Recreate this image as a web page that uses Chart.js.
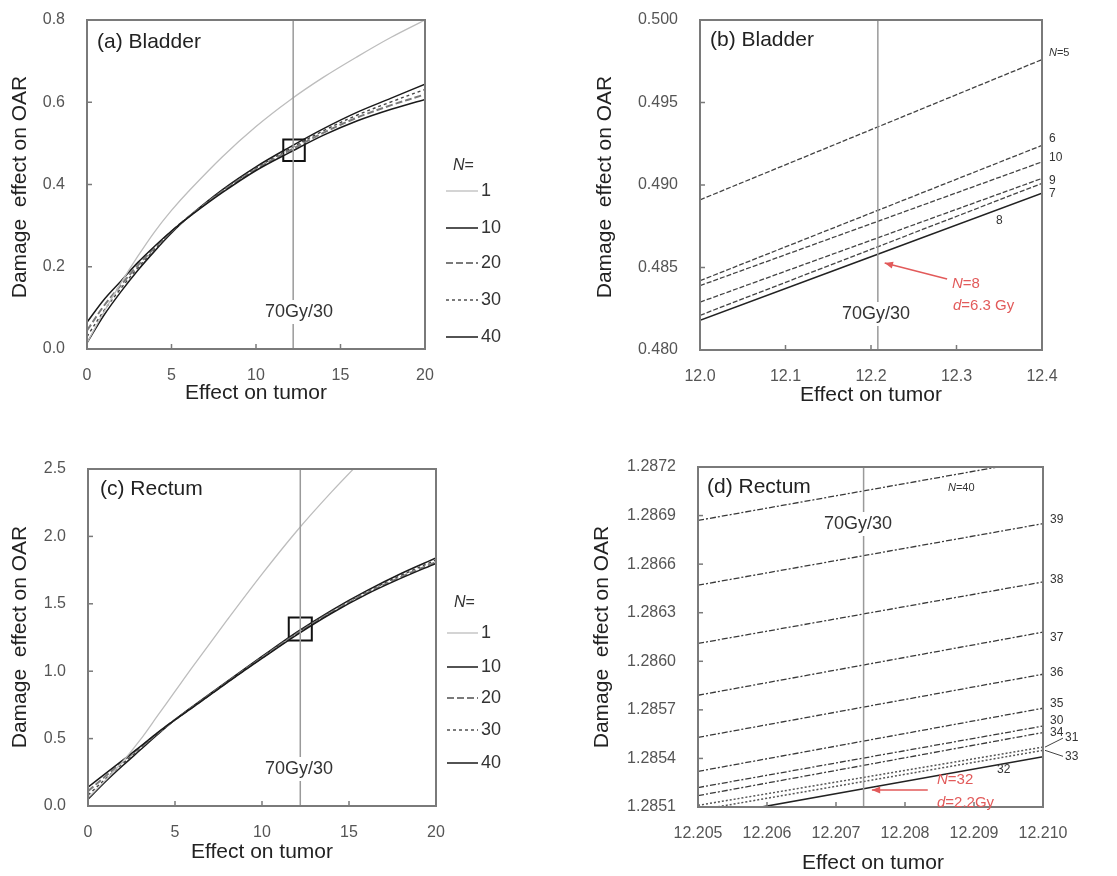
<!DOCTYPE html>
<html>
<head>
<meta charset="utf-8">
<script src="https://cdn.jsdelivr.net/npm/chart.js@4.4.1/dist/chart.umd.min.js"></script>
<style>
  body { margin: 0; background: #fff; width: 1117px; height: 876px; position: relative; overflow: hidden; }
  canvas { position: absolute; }
</style>
</head>
<body>
<canvas id="pa" width="558" height="420" style="left:0;top:0"></canvas>
<canvas id="pb" width="559" height="420" style="left:558px;top:0"></canvas>
<canvas id="pc" width="558" height="456" style="left:0;top:420px"></canvas>
<canvas id="pd" width="559" height="456" style="left:558px;top:420px"></canvas>
<script>
// ---- data ----
// (a) bladder, whole range
const xA = [0, 1, 2, 3, 4, 5, 6, 8, 10, 12, 14, 16, 18, 20];
const bladN1  = [0.015, 0.09, 0.16, 0.225, 0.285, 0.337, 0.383, 0.467, 0.541, 0.605, 0.661, 0.711, 0.758, 0.8];
const bladN10 = [0.065, 0.12, 0.165, 0.21, 0.25, 0.287, 0.32, 0.38, 0.434, 0.478, 0.52, 0.555, 0.583, 0.607];
const bladN20 = [0.045, 0.105, 0.155, 0.203, 0.246, 0.286, 0.321, 0.383, 0.437, 0.483, 0.526, 0.563, 0.593, 0.619];
const bladN30 = [0.03, 0.093, 0.147, 0.197, 0.242, 0.284, 0.321, 0.385, 0.44, 0.487, 0.531, 0.569, 0.601, 0.631];
const bladN40 = [0.015, 0.082, 0.139, 0.191, 0.238, 0.282, 0.321, 0.387, 0.443, 0.491, 0.536, 0.576, 0.61, 0.644];

// (b) bladder, zoomed
const xB = [12.0, 12.4];
const bN5  = [0.4891, 0.4976];
const bN6  = [0.4842, 0.4924];
const bN10 = [0.4839, 0.4914];
const bN9  = [0.4829, 0.4904];
const bN7  = [0.4821, 0.4901];
const bN8  = [0.4818, 0.4895];

// (c) rectum, whole range
const xC = [0, 1, 2, 3, 4, 5, 6, 8, 10, 12, 14, 16, 18, 20];
const rectN1  = [0.06, 0.19, 0.33, 0.49, 0.67, 0.85, 1.03, 1.38, 1.72, 2.04, 2.33, 2.6];
const rectN10 = [0.14, 0.24, 0.34, 0.44, 0.545, 0.64, 0.73, 0.915, 1.095, 1.27, 1.43, 1.57, 1.69, 1.80];
const rectN20 = [0.11, 0.22, 0.33, 0.435, 0.54, 0.64, 0.732, 0.918, 1.1, 1.277, 1.437, 1.578, 1.70, 1.81];
const rectN30 = [0.08, 0.2, 0.315, 0.425, 0.535, 0.64, 0.735, 0.921, 1.105, 1.284, 1.445, 1.587, 1.712, 1.825];
const rectN40 = [0.05, 0.18, 0.3, 0.415, 0.53, 0.64, 0.738, 0.925, 1.11, 1.29, 1.452, 1.596, 1.725, 1.84];

// (d) rectum, zoomed
const xD = [12.205, 12.210];
const dN40 = [1.28687, 1.28725];
const dN39 = [1.28647, 1.28685];
const dN38 = [1.28611, 1.28649];
const dN37 = [1.28579, 1.28618];
const dN36 = [1.28553, 1.28592];
const dN35 = [1.28532, 1.28571];
const dN30 = [1.28522, 1.28560];
const dN34 = [1.28517, 1.28556];
const dN31 = [1.28511, 1.28547];
const dN33 = [1.28508, 1.28545];
const dN32 = [1.28503, 1.28541];

// 70Gy/30 reference (effect on tumor) and zoom boxes
const refA = 12.2, refB = 12.208, refC = 12.2, refD = 12.2074;
const boxA = { x: 12.25, y: 0.483 };
const boxC = { x: 12.2, y: 1.313 };

// tick values and labels
const ticksAx = [0, 5, 10, 15, 20];
const labelsAx = ['0', '5', '10', '15', '20'];
const ticksAy = [0, 0.2, 0.4, 0.6, 0.8];
const labelsAy = ['0.0', '0.2', '0.4', '0.6', '0.8'];
const ticksBx = [12.0, 12.1, 12.2, 12.3, 12.4];
const labelsBx = ['12.0', '12.1', '12.2', '12.3', '12.4'];
const ticksBy = [0.480, 0.485, 0.490, 0.495, 0.500];
const labelsBy = ['0.480', '0.485', '0.490', '0.495', '0.500'];
const ticksCy = [0, 0.5, 1.0, 1.5, 2.0, 2.5];
const labelsCy = ['0.0', '0.5', '1.0', '1.5', '2.0', '2.5'];
const ticksDx = [12.205, 12.206, 12.207, 12.208, 12.209, 12.210];
const labelsDx = ['12.205', '12.206', '12.207', '12.208', '12.209', '12.210'];
const ticksDy = [1.2851, 1.2854, 1.2857, 1.2860, 1.2863, 1.2866, 1.2869, 1.2872];
const labelsDy = ['1.2851', '1.2854', '1.2857', '1.2860', '1.2863', '1.2866', '1.2869', '1.2872'];

const legendN = ['1', '10', '20', '30', '40'];

// ---- helpers ----
const FONT = "'Liberation Sans', Arial, sans-serif";

function axis(min, max, ticks, labels, pad, size, isX) {
  return {
    type: 'linear', min: min, max: max,
    afterBuildTicks: s => { s.ticks = ticks.map(v => ({ value: v })); },
    afterFit: s => {
      if (isX) s.height = size; else s.width = size;
      s.paddingLeft = s.paddingRight = s.paddingTop = s.paddingBottom = 0;
    },
    grid: { display: false, drawTicks: false },
    border: { display: false },
    ticks: {
      padding: pad, color: '#555', maxRotation: 0, autoSkip: false,
      font: { family: FONT, size: 16 },
      callback: (v, i) => labels[i]
    }
  };
}

function series(xs, ys, style) {
  return Object.assign({
    data: ys.map((y, i) => ({ x: xs[i], y: y })),
    showLine: true, pointRadius: 0, fill: false, tension: 0.35
  }, style);
}

function refLine(x, y0, y1) {
  return { data: [{ x: x, y: y0 }, { x: x, y: y1 }], showLine: true, pointRadius: 0,
           borderColor: '#9a9a9a', borderWidth: 1.5 };
}

function boxMark(p, r) {
  return { data: [p], showLine: false, pointStyle: 'rect', pointRadius: r,
           borderColor: '#111', borderWidth: 2, backgroundColor: 'rgba(0,0,0,0)' };
}

const sty = {
  n1:  { borderColor: '#bdbdbd', borderWidth: 1.3 },
  n10: { borderColor: '#1a1a1a', borderWidth: 1.5 },
  n20: { borderColor: '#7a7a7a', borderWidth: 2, borderDash: [7, 3] },
  n30: { borderColor: '#444', borderWidth: 1.4, borderDash: [3, 3] },
  n40: { borderColor: '#1a1a1a', borderWidth: 1.5 },
  dashB: { borderColor: '#444', borderWidth: 1.3, borderDash: [5, 2] },
  solidB: { borderColor: '#222', borderWidth: 1.6 },
  dashD: { borderColor: '#3a3a3a', borderWidth: 1.3, borderDash: [6, 2, 2, 2] },
  hatchD: { borderColor: '#555', borderWidth: 1.5, borderDash: [2, 2] },
  solidD: { borderColor: '#222', borderWidth: 1.6 }
};

function drawText(ctx, parts, x, y, size, color, align, rot) {
  ctx.save();
  ctx.translate(x, y);
  if (rot) ctx.rotate(rot);
  ctx.fillStyle = color;
  ctx.textBaseline = 'middle';
  ctx.textAlign = 'left';
  const fonts = parts.map(p => (p[1] ? 'italic ' : '') + size + 'px ' + FONT);
  let w = 0;
  const ws = parts.map((p, i) => { ctx.font = fonts[i]; const m = ctx.measureText(p[0]).width; w += m; return m; });
  let cx = align === 'center' ? -w / 2 : (align === 'right' ? -w : 0);
  parts.forEach((p, i) => { ctx.font = fonts[i]; ctx.fillText(p[0], cx, 0); cx += ws[i]; });
  ctx.restore();
  return w;
}

function seg(ctx, x1, y1, x2, y2) {
  ctx.beginPath(); ctx.moveTo(x1, y1); ctx.lineTo(x2, y2); ctx.stroke();
}

function makeDeco(c) {
  return {
    id: 'deco',
    afterDatasetsDraw(chart) {
      const ctx = chart.ctx, a = chart.chartArea;
      const xs = chart.scales.x, ys = chart.scales.y;
      const ox = c.ox, oy = c.oy;
      ctx.save();

      // inward tick marks
      ctx.strokeStyle = '#7a7a7a';
      ctx.lineWidth = 1.5;
      xs.ticks.forEach(t => { const px = xs.getPixelForValue(t.value); seg(ctx, px, a.bottom, px, a.bottom - 5); });
      ys.ticks.forEach(t => { const py = ys.getPixelForValue(t.value); seg(ctx, a.left, py, a.left + 5, py); });

      // frame
      ctx.lineWidth = 2;
      ctx.strokeRect(a.left, a.top, a.right - a.left, a.bottom - a.top);

      // panel tag
      drawText(ctx, [[c.tag]], c.tagAt[0] - ox, c.tagAt[1] - oy, 21, '#222', 'left');

      // 70Gy/30 with white background
      ctx.font = '18px ' + FONT;
      const w = ctx.measureText('70Gy/30').width;
      ctx.fillStyle = '#fff';
      ctx.fillRect(c.refAt[0] - ox - w / 2 - 2, c.refAt[1] - oy - 12, w + 4, 24);
      drawText(ctx, [['70Gy/30']], c.refAt[0] - ox, c.refAt[1] - oy, 18, '#333', 'center');

      // axis titles
      drawText(ctx, [['Effect on tumor']], c.xTitle[0] - ox, c.xTitle[1] - oy, 21, '#222', 'center');
      drawText(ctx, [['Damage  effect on OAR']], c.yTitle[0] - ox, c.yTitle[1] - oy, 21, '#222', 'center', -Math.PI / 2);

      // legend
      if (c.legend) {
        const L = c.legend;
        drawText(ctx, [['N', 1], ['=']], L.x1 + 7 - ox, L.head - oy, 16, '#333', 'left');
        L.items.forEach((k, i) => {
          const ds = chart.data.datasets[k];
          const y = L.ys[i] - oy;
          ctx.strokeStyle = ds.borderColor;
          ctx.lineWidth = ds.borderWidth;
          ctx.setLineDash(ds.borderDash || []);
          seg(ctx, L.x1 - ox, y, L.x2 - ox, y);
          ctx.setLineDash([]);
          drawText(ctx, [[legendN[i]]], L.x2 + 3 - ox, y, 18, '#333', 'left');
        });
      }

      // end-of-line labels
      (c.ends || []).forEach(e => {
        const ds = chart.data.datasets[e.ds];
        const last = ds.data[ds.data.length - 1];
        const y = ys.getPixelForValue(last.y);
        const tx = a.right + (e.dx || 7);
        if (e.leader) {
          ctx.strokeStyle = '#444'; ctx.lineWidth = 1;
          seg(ctx, a.right + 2, y, tx - 2, y + e.dy);
        }
        drawText(ctx, e.parts, tx, y + e.dy, e.size || 12, '#333', 'left');
      });

      // free labels
      (c.notes || []).forEach(n => {
        drawText(ctx, n.parts, n.at[0] - ox, n.at[1] - oy, n.size, n.color, 'left');
      });

      // red arrow
      if (c.arrow) {
        const A = c.arrow;
        const x1 = xs.getPixelForValue(A.from[0]), y1 = ys.getPixelForValue(A.from[1]);
        const x2 = xs.getPixelForValue(A.to[0]), y2 = ys.getPixelForValue(A.to[1]);
        ctx.strokeStyle = '#e25a5a'; ctx.fillStyle = '#e25a5a'; ctx.lineWidth = 1.5;
        seg(ctx, x1, y1, x2, y2);
        const ang = Math.atan2(y2 - y1, x2 - x1);
        ctx.beginPath();
        ctx.moveTo(x2, y2);
        ctx.lineTo(x2 - 9 * Math.cos(ang - 0.4), y2 - 9 * Math.sin(ang - 0.4));
        ctx.lineTo(x2 - 9 * Math.cos(ang + 0.4), y2 - 9 * Math.sin(ang + 0.4));
        ctx.closePath();
        ctx.fill();
      }
      ctx.restore();
    }
  };
}

function makeChart(id, datasets, xAxis, yAxis, pad, deco) {
  new Chart(document.getElementById(id), {
    type: 'scatter',
    data: { datasets: datasets },
    options: {
      responsive: false,
      animation: false,
      layout: { padding: pad },
      plugins: { legend: { display: false }, tooltip: { enabled: false } },
      scales: { x: xAxis, y: yAxis }
    },
    plugins: [makeDeco(deco)]
  });
}

const red = '#e25a5a';

// (a)
makeChart('pa', [
  refLine(refA, 0, 0.8),
  series(xA, bladN1, sty.n1),
  series(xA, bladN10, sty.n10),
  series(xA, bladN20, sty.n20),
  series(xA, bladN30, sty.n30),
  series(xA, bladN40, sty.n40),
  boxMark(boxA, 15.2)
],
  axis(0, 20, ticksAx, labelsAx, 17, 71, true),
  axis(0, 0.8, ticksAy, labelsAy, 22, 87, false),
  { left: 0, top: 20, right: 133, bottom: 0 },
  { ox: 0, oy: 0, tag: '(a) Bladder', tagAt: [97, 42], refAt: [299, 312],
    xTitle: [256, 393], yTitle: [20, 187],
    legend: { x1: 446, x2: 478, head: 166, ys: [191, 228, 263, 300, 337], items: [1, 2, 3, 4, 5] } });

// (b)
makeChart('pb', [
  refLine(refB, 0.48, 0.5),
  series(xB, bN5, sty.dashB),
  series(xB, bN6, sty.dashB),
  series(xB, bN10, sty.dashB),
  series(xB, bN9, sty.dashB),
  series(xB, bN7, sty.dashB),
  series(xB, bN8, sty.solidB)
],
  axis(12.0, 12.4, ticksBx, labelsBx, 17, 70, true),
  axis(0.48, 0.5, ticksBy, labelsBy, 22, 142, false),
  { left: 0, top: 20, right: 75, bottom: 0 },
  { ox: 558, oy: 0, tag: '(b) Bladder', tagAt: [710, 40], refAt: [876, 314],
    xTitle: [871, 395], yTitle: [605, 187],
    ends: [
      { ds: 1, dy: -7, parts: [['N', 1], ['=5']], size: 11 },
      { ds: 2, dy: -7, parts: [['6']] },
      { ds: 3, dy: -4, parts: [['10']] },
      { ds: 4, dy: 2, parts: [['9']] },
      { ds: 5, dy: 10, parts: [['7']] }
    ],
    notes: [
      { parts: [['8']], at: [996, 221], size: 12, color: '#333' },
      { parts: [['N', 1], ['=8']], at: [952, 284], size: 15, color: red },
      { parts: [['d', 1], ['=6.3 Gy']], at: [953, 306], size: 15, color: red }
    ],
    arrow: { from: [12.289, 0.4843], to: [12.216, 0.48527] } });

// (c)
makeChart('pc', [
  refLine(refC, 0, 2.5),
  series(xC, rectN1, sty.n1),
  series(xC, rectN10, sty.n10),
  series(xC, rectN20, sty.n20),
  series(xC, rectN30, sty.n30),
  series(xC, rectN40, sty.n40),
  boxMark(boxC, 16.3)
],
  axis(0, 20, ticksAx, labelsAx, 17, 70, true),
  axis(0, 2.5, ticksCy, labelsCy, 22, 88, false),
  { left: 0, top: 49, right: 122, bottom: 0 },
  { ox: 0, oy: 420, tag: '(c) Rectum', tagAt: [100, 489], refAt: [299, 769],
    xTitle: [262, 852], yTitle: [20, 637],
    legend: { x1: 447, x2: 478, head: 603, ys: [633, 667, 698, 730, 763], items: [1, 2, 3, 4, 5] } });

// (d)
makeChart('pd', [
  refLine(refD, 1.2851, 1.2872),
  series(xD, dN40, sty.dashD),
  series(xD, dN39, sty.dashD),
  series(xD, dN38, sty.dashD),
  series(xD, dN37, sty.dashD),
  series(xD, dN36, sty.dashD),
  series(xD, dN35, sty.dashD),
  series(xD, dN30, sty.dashD),
  series(xD, dN34, sty.dashD),
  series(xD, dN31, sty.hatchD),
  series(xD, dN33, sty.hatchD),
  series(xD, dN32, sty.solidD)
],
  axis(12.205, 12.210, ticksDx, labelsDx, 17, 69, true),
  axis(1.2851, 1.2872, ticksDy, labelsDy, 22, 140, false),
  { left: 0, top: 47, right: 74, bottom: 0 },
  { ox: 558, oy: 420, tag: '(d) Rectum', tagAt: [707, 487], refAt: [858, 524],
    xTitle: [873, 863], yTitle: [602, 637],
    ends: [
      { ds: 2, dy: -4, parts: [['39']] },
      { ds: 3, dy: -2, parts: [['38']] },
      { ds: 4, dy: 6, parts: [['37']] },
      { ds: 5, dy: -2, parts: [['36']] },
      { ds: 6, dy: -5, parts: [['35']] },
      { ds: 7, dy: -5, parts: [['30']] },
      { ds: 8, dy: 0, parts: [['34']] },
      { ds: 9, dy: -9, dx: 22, leader: true, parts: [['31']] },
      { ds: 10, dy: 6, dx: 22, leader: true, parts: [['33']] }
    ],
    notes: [
      { parts: [['N', 1], ['=40']], at: [948, 488], size: 11, color: '#333' },
      { parts: [['32']], at: [997, 770], size: 12, color: '#333' },
      { parts: [['N', 1], ['=32']], at: [937, 780], size: 15, color: red },
      { parts: [['d', 1], ['=2.2Gy']], at: [937, 803], size: 15, color: red }
    ],
    arrow: { from: [12.20833, 1.285205], to: [12.20752, 1.285205] } });
</script>
</body>
</html>
